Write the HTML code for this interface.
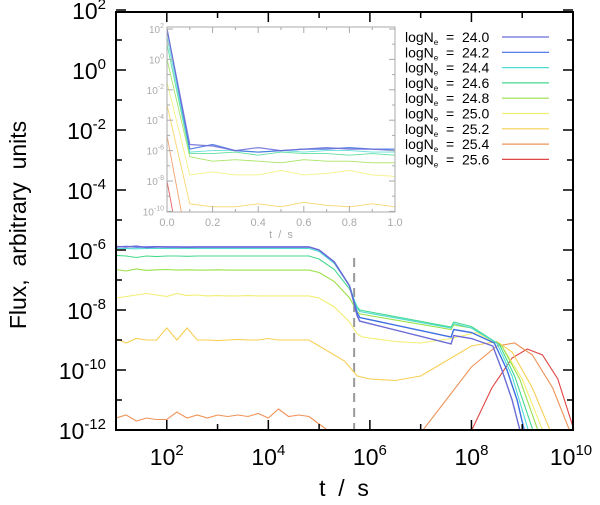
<!DOCTYPE html>
<html><head><meta charset="utf-8"><style>
body{margin:0;background:#fff}
svg{display:block;font-family:"Liberation Sans",sans-serif}
text{white-space:pre}
</style></head><body>
<svg id="c" width="600" height="505" xmlns="http://www.w3.org/2000/svg"></svg>
<script>
const labels=["24.0","24.2","24.4","24.6","24.8","25.0","25.2","25.4","25.6"];
const colors=["#6b6bd6","#3d6fe0","#4fdcd4","#45d98f","#9ae04a","#f2ee72","#f7cf55","#ef9358","#e04545"];
const plateauT=[1.0,1.2,1.4,1.6,1.8,2.0,2.2,2.4,2.6,2.8,3.0,3.2,3.4,3.6,3.8,4.0,4.2,4.4,4.6,4.8];
const plat0=[-5.88,-5.9,-5.87,-5.92,-5.9,-5.9,-5.9,-5.91,-5.9,-5.9,-5.9,-5.9,-5.9,-5.9,-5.9,-5.9,-5.9,-5.9,-5.9,-5.9];
const plat1=[-5.9,-5.88,-5.9,-5.9,-5.89,-5.9,-5.9,-5.9,-5.9,-5.9,-5.9,-5.9,-5.9,-5.9,-5.9,-5.9,-5.9,-5.9,-5.9,-5.9];
const plat2=[-5.95,-5.95,-5.96,-5.95,-5.95,-5.95,-5.95,-5.95,-5.95,-5.95,-5.95,-5.95,-5.95,-5.95,-5.95,-5.95,-5.95,-5.95,-5.95,-5.95];
const plat3=[-6.18,-6.2,-6.25,-6.2,-6.22,-6.2,-6.2,-6.21,-6.2,-6.2,-6.2,-6.2,-6.2,-6.2,-6.2,-6.2,-6.2,-6.2,-6.2,-6.2];
const plat4=[-6.65,-6.7,-6.63,-6.68,-6.66,-6.65,-6.67,-6.66,-6.67,-6.67,-6.66,-6.67,-6.67,-6.67,-6.67,-6.67,-6.67,-6.67,-6.67,-6.67];
const plat5=[-7.6,-7.55,-7.5,-7.45,-7.5,-7.55,-7.45,-7.52,-7.5,-7.53,-7.52,-7.53,-7.53,-7.52,-7.53,-7.53,-7.53,-7.53,-7.53,-7.53];
const plat6=[-8.95,-9.1,-8.95,-9.0,-9.0,-8.6,-9.0,-8.6,-9.0,-9.0,-9.02,-9.0,-8.98,-9.0,-9.0,-8.95,-9.0,-9.0,-9.0,-9.0];
const plat7=[-11.6,-11.5,-11.7,-11.6,-11.65,-11.65,-11.4,-11.6,-11.5,-11.6,-11.5,-11.55,-11.5,-11.55,-11.45,-11.6,-11.3,-11.55,-11.5,-11.55];
const tailT0=[5.0,5.3,5.6,5.75,5.8,7.6,7.65,8.0,8.42,8.6,8.8,9.0];
const tail0=[-6.0,-6.4,-7.2,-8.2,-8.37,-9.13,-8.85,-8.95,-9.2,-10.0,-11.0,-12.3];
const tailT1=[5.0,5.3,5.6,5.75,5.8,7.6,7.65,8.0,8.45,8.7,8.9,9.08];
const tail1=[-6.0,-6.4,-7.2,-8.1,-8.25,-8.9,-8.65,-8.75,-9.1,-10.0,-11.0,-12.3];
const tailT2=[5.0,5.3,5.6,5.75,5.8,7.6,7.65,8.0,8.5,8.8,9.17];
const tail2=[-6.05,-6.45,-7.2,-7.95,-8.05,-8.6,-8.45,-8.6,-9.1,-10.2,-12.3];
const tailT3=[5.0,5.3,5.6,5.75,5.8,7.6,7.65,8.0,8.55,8.85,9.27];
const tail3=[-6.3,-6.65,-7.3,-7.9,-8.0,-8.57,-8.4,-8.55,-9.15,-10.2,-12.3];
const tailT4=[5.0,5.3,5.6,5.75,5.8,7.6,7.65,8.0,8.6,8.95,9.37];
const tail4=[-6.75,-7.05,-7.6,-8.05,-8.13,-8.65,-8.5,-8.6,-9.2,-10.3,-12.3];
const tailT5=[5.0,5.3,5.6,5.75,5.85,6.5,7.0,7.6,8.1,8.6,9.0,9.47];
const tail5=[-7.6,-7.9,-8.4,-8.8,-8.9,-9.05,-9.1,-8.95,-8.75,-9.2,-10.3,-12.3];
const tailT6=[5.0,5.5,5.75,6.0,6.5,7.0,7.5,8.0,8.5,8.8,9.2,9.62];
const tail6=[-9.2,-9.7,-10.2,-10.3,-10.35,-10.2,-9.7,-9.2,-9.05,-9.4,-10.6,-12.3];
const tailT7=[5.0,5.4,7.0,7.5,8.0,8.5,8.85,9.2,9.6,10.0];
const tail7=[-11.8,-12.3,-12.1,-11.0,-9.9,-9.2,-9.1,-9.5,-10.6,-12.3];
const tailT8=[7.98,8.4,8.8,9.1,9.4,9.7,10.0];
const tail8=[-12.1,-10.6,-9.6,-9.3,-9.5,-10.3,-11.9];
const insetT=[0,0.1,0.2,0.3,0.4,0.5,0.6,0.7,0.8,0.9,1.0];
const ins0=[2,-5.6,-5.7,-6.0,-5.8,-6.0,-5.9,-5.8,-5.9,-5.9,-6.0];
const ins1=[2,-5.9,-5.6,-6.0,-6.1,-6.0,-5.9,-5.9,-5.8,-5.9,-5.9];
const ins2=[1.5,-6.1,-6.0,-6.0,-6.1,-6.0,-6.1,-6.0,-6.0,-6.1,-6.1];
const ins3=[1,-6.2,-6.2,-6.1,-6.3,-6.1,-6.2,-6.2,-6.3,-6.2,-6.3];
const ins4=[0,-6.4,-6.7,-6.6,-6.7,-6.8,-6.6,-6.7,-6.7,-6.8,-6.8];
const ins5=[-1.5,-7.6,-7.4,-7.6,-7.6,-7.3,-7.6,-7.5,-7.3,-7.6,-7.7];
const ins6=[-3,-9.5,-9.7,-9.7,-9.5,-9.7,-9.4,-9.6,-9.7,-9.5,-9.7];
const ins7=[-5,-13,-13,-13,-13,-13,-13,-13,-13,-13,-13];
const ins8=[-8,-16,-16,-16,-16,-16,-16,-16,-16,-16,-16];

const NS="http://www.w3.org/2000/svg";
const svg=document.getElementById('c');
function mk(tag,attrs,parent){const e=document.createElementNS(NS,tag);for(const k in attrs)e.setAttribute(k,attrs[k]);(parent||svg).appendChild(e);return e;}
const L=116,R=573,T=12,B=430;
const xs=lt=>L+(lt-1)*(R-L)/9;
const ys=lf=>B-(lf+12)*30;
const IL=167,IR=395,IT=27,IB=212;
const ixs=t=>IL+t*(IR-IL);
const iys=lf=>29-(lf-2)*15.2;

const defs=mk('defs',{});
const cp=mk('clipPath',{id:'mc'},defs);mk('rect',{x:L,y:T,width:R-L,height:B-T},cp);
const cp2=mk('clipPath',{id:'ic'},defs);mk('rect',{x:IL,y:IT,width:IR-IL,height:IB-IT},cp2);

const mainG=mk('g',{'clip-path':'url(#mc)'});


const dash=mk('line',{x1:xs(5.69),x2:xs(5.69),y1:258,y2:B,stroke:'#999','stroke-width':2,'stroke-dasharray':'9,6'},mainG);


const plats=[plat0,plat1,plat2,plat3,plat4,plat5,plat6,plat7,null];
const tailTs=[tailT0,tailT1,tailT2,tailT3,tailT4,tailT5,tailT6,tailT7,tailT8];
const tails=[tail0,tail1,tail2,tail3,tail4,tail5,tail6,tail7,tail8];
for(let s=8;s>=0;s--){
  let pts=[];
  if(plats[s]) plateauT.forEach((t,i)=>pts.push([xs(t),ys(plats[s][i])]));
  tailTs[s].forEach((t,i)=>pts.push([xs(t),ys(tails[s][i])]));
  const p=mk('polyline',{points:pts.map(p=>p[0].toFixed(1)+','+p[1].toFixed(1)).join(' '),fill:'none',stroke:colors[s],'stroke-width':s<2?1.4:1.1},mainG);
  
  
}
const frame=mk('rect',{x:L,y:T,width:R-L,height:B-T,fill:'none',stroke:'#000','stroke-width':2});


for(let d=-12;d<=2;d++){
  const y=ys(d),len=d%2==0?10:6;
  mk('line',{x1:L,x2:L+len,y1:y,y2:y,stroke:'#000','stroke-width':1.5});
  mk('line',{x1:R,x2:R-len,y1:y,y2:y,stroke:'#000','stroke-width':1.5});
  if(d%2==0){
    const t=mk('text',{x:L-10,y:y+9,'text-anchor':'end','font-size':23});
    
    
    t.innerHTML='10<tspan dy="-10" font-size="15">'+d+'</tspan>';
  }
}
for(let d=1;d<=10;d++){
  const x=xs(d),len=d%2==0?10:6;
  mk('line',{x1:x,x2:x,y1:B,y2:B-len,stroke:'#000','stroke-width':1.5});
  mk('line',{x1:x,x2:x,y1:T,y2:T+len,stroke:'#000','stroke-width':1.5});
  if(d%2==0){
    const t=mk('text',{x:x+(d==10?-2:0),y:B+35,'text-anchor':'middle','font-size':23});
    
    
    t.innerHTML='10<tspan dy="-10" font-size="15">'+d+'</tspan>';
  }
}
const xt=mk('text',{x:344,y:496,'text-anchor':'middle','font-size':23});
xt.textContent='t  /  s';


const yt=mk('text',{x:0,y:0,'text-anchor':'middle','font-size':23,transform:'translate(26,225) rotate(-90)'});
yt.textContent='Flux,  arbitrary  units';



const bg=mk('rect',{x:IL,y:IT,width:IR-IL,height:IB-IT,fill:'#fff'});
const insG=mk('g',{'clip-path':'url(#ic)'});


const ins=[ins0,ins1,ins2,ins3,ins4,ins5,ins6,ins7,ins8];
for(let s=8;s>=0;s--){
  const pts=insetT.map((t,i)=>ixs(t).toFixed(1)+','+iys(ins[s][i]).toFixed(1)).join(' ');
  const p=mk('polyline',{points:pts,fill:'none',stroke:colors[s],'stroke-width':s<2?1.2:0.9,opacity:0.85},insG);
  
  
}
const iframe=mk('rect',{x:IL,y:IT,width:IR-IL,height:IB-IT,fill:'none',stroke:'#aaa','stroke-width':1});


for(let d=-10;d<=2;d++){
  const y=iys(d),len=d%2==0?6:3;
  mk('line',{x1:IL,x2:IL+len,y1:y,y2:y,stroke:'#aaa'});
  mk('line',{x1:IR,x2:IR-len,y1:y,y2:y,stroke:'#aaa'});
  if(d%2==0){
    const t=mk('text',{x:IL-3,y:y+4,'text-anchor':'end','font-size':10,fill:'#aaa'});
    
    
    t.innerHTML='10<tspan dy="-5" font-size="7">'+d+'</tspan>';
  }
}
for(let i=0;i<=10;i++){
  const x=ixs(i/10),len=i%2==0?6:3;
  mk('line',{x1:x,x2:x,y1:IB,y2:IB-len,stroke:'#aaa'});
  mk('line',{x1:x,x2:x,y1:IT,y2:IT+len,stroke:'#aaa'});
  if(i%2==0){
    const t=mk('text',{x:x,y:IB+14,'text-anchor':'middle','font-size':11,fill:'#aaa'});
    t.textContent=(i/10).toFixed(1);
    
    
  }
}
const ixt=mk('text',{x:281,y:238,'text-anchor':'middle','font-size':11,fill:'#aaa'});
ixt.textContent='t  /  s';



labels.forEach((lb,i)=>{
  const y=37+i*15.3;
  const g=mk('g',{});
  
  
  const t=mk('text',{x:405,y:y+5,'font-size':14},g);
  t.innerHTML='logN<tspan dy="3" font-size="8">e</tspan><tspan dy="-3">  =  '+lb+'</tspan>';
  mk('line',{x1:502,x2:549,y1:y,y2:y,stroke:colors[i],'stroke-width':1.2},g);
});
</script>
</body></html>
